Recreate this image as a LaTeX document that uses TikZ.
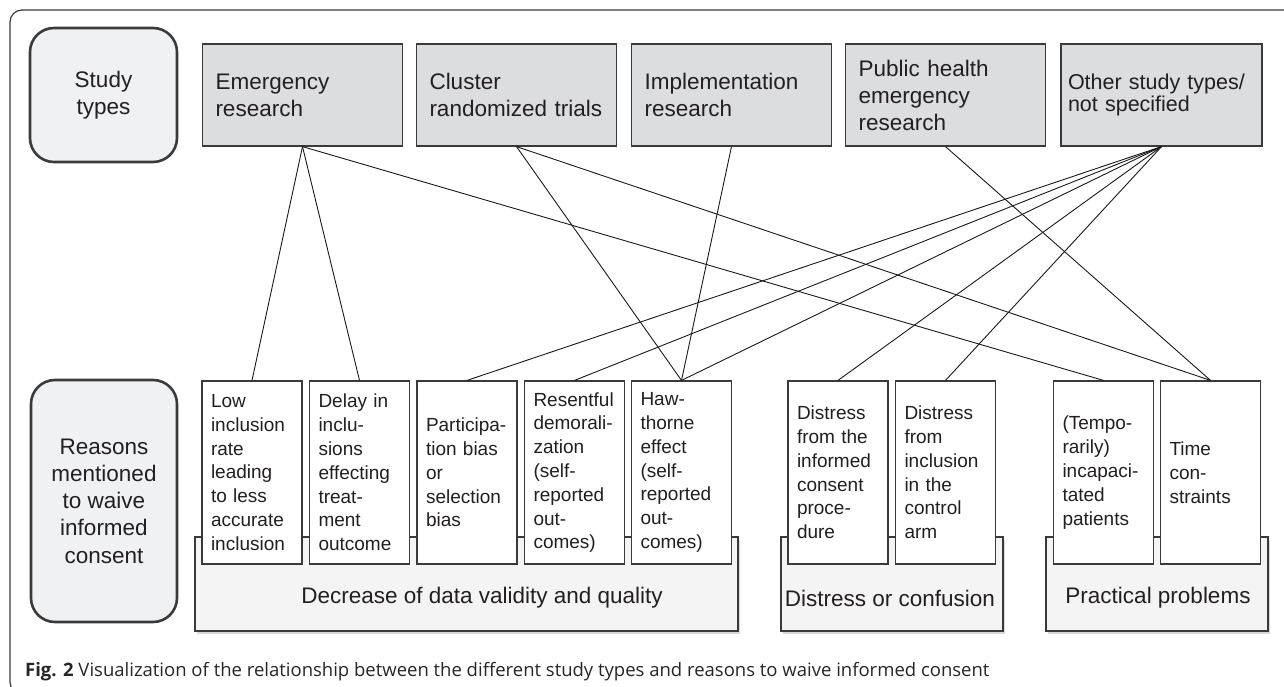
\documentclass[tikz,border=0pt]{standalone}
\usepackage{fontspec}
\setmainfont{Liberation Sans}
\newfontfamily\capfont{Open Sans}
\usetikzlibrary{shadows}
\definecolor{typegray}{HTML}{DCDDDF}
\definecolor{sidegray}{HTML}{F0F1F3}
\definecolor{groupgray}{HTML}{F4F4F4}
\definecolor{edgegray}{HTML}{3A3A3A}
\definecolor{inkgray}{HTML}{231F20}
\begin{document}
\begin{tikzpicture}[x=1pt,y=-1pt,
  side/.style={draw=edgegray, line width=2.6pt, fill=sidegray, rounded corners=24pt,
    align=center, text=inkgray, font=\fontsize{22.5}{27.3}\selectfont, inner sep=0pt},
  studytype/.style={draw=edgegray, line width=1.2pt, fill=typegray, minimum width=200pt,
    minimum height=102pt, text width=174pt, inner xsep=13pt, align=left, text=inkgray,
    font=\fontsize{22.5}{27}\selectfont},
  reason/.style={draw=edgegray, line width=1.2pt, fill=white, minimum height=183pt,
    text width=82pt, inner xsep=9pt, align=left, text=inkgray,
    font=\fontsize{19}{23.8}\selectfont},
  group/.style={draw=edgegray, line width=1.2pt, fill=groupgray,
    drop shadow={shadow xshift=2pt, shadow yshift=-3pt, opacity=.3}},
  grouplabel/.style={text=inkgray, font=\fontsize{22.5}{27}\selectfont},
  link/.style={line width=0.9pt, draw=black!90}]
\useasboundingbox (0,0) rectangle (1284,687);
% frame round the figure
\begin{scope}
\clip (0,0) rectangle (1284,687);
\draw[edgegray, line width=1.2pt, rounded corners=12pt] (10,10) rectangle (1300,694);
\end{scope}
% row headers
\node[side, minimum width=147pt, minimum height=134pt] (hdtypes) at (103.5,95) {Study\\types};
\node[side, minimum width=146pt, minimum height=242pt] (hdreasons) at (104,501)
  {Reasons\\mentioned\\to waive\\informed\\consent};
% study types
\node[studytype] (emerg) at (302.5,95) {Emergency\\research};
\node[studytype] (cluster) at (516.5,95) {Cluster\\randomized trials};
\node[studytype] (impl) at (731.5,95) {Implementation\\research};
\node[studytype] (public) at (945.5,95) {Public health\\emergency\\research};
\node[studytype, text width=187pt, inner xsep=7pt, font=\fontsize{21.5}{22}\selectfont]
  (other) at (1161.5,95) {Other study types/\\not specified};
% groups of reasons
\draw[group] (195,537) rectangle (738,631);
\draw[group] (781,537) rectangle (1003,631);
\draw[group] (1046,537) rectangle (1268,631);
\node[grouplabel] (gdata) at (482,598) {Decrease of data validity and quality};
\node[grouplabel] (gdistress) at (890,598) {Distress or confusion};
\node[grouplabel] (gpract) at (1158,598) {Practical problems};
% reasons
\node[reason] (low) at (252,472.5) {Low\\inclusion\\rate\\leading\\to less\\accurate\\inclusion};
\node[reason] (delay) at (359.5,472.5) {Delay in\\inclu-\\sions\\effecting\\treat-\\ment\\outcome};
\node[reason] (partic) at (467,472.5) {Participa-\\tion bias\\or\\selection\\bias};
\node[reason] (resent) at (574.5,472.5) {Resentful\\demorali-\\zation\\(self-\\reported\\out-\\comes)};
\node[reason] (hawth) at (681.5,472.5) {Haw-\\thorne\\effect\\(self-\\reported\\out-\\comes)};
\node[reason] (distinf) at (838,472.5) {Distress\\from the\\informed\\consent\\proce-\\dure};
\node[reason] (distincl) at (945.5,472.5) {Distress\\from\\inclusion\\in the\\control\\arm};
\node[reason] (tempo) at (1103.5,472.5) {(Tempo-\\rarily)\\incapaci-\\tated\\patients};
\node[reason] (time) at (1210.5,472.5) {Time\\con-\\straints};
% links
\foreach \a/\b in {emerg/low, emerg/delay, emerg/tempo, cluster/hawth, cluster/time,
  impl/hawth, public/time, other/partic, other/resent, other/hawth, other/distinf, other/distincl}
\draw[link] (\a.south) -- (\b.north);
% caption
\node[anchor=base west, inner sep=0pt, text=black!85, font=\capfont\fontsize{18.5}{20}\selectfont]
  (caption) at (25,676) {\textbf{Fig. 2} Visualization of the relationship between the different study types and reasons to waive informed consent};
\end{tikzpicture}
\end{document}
